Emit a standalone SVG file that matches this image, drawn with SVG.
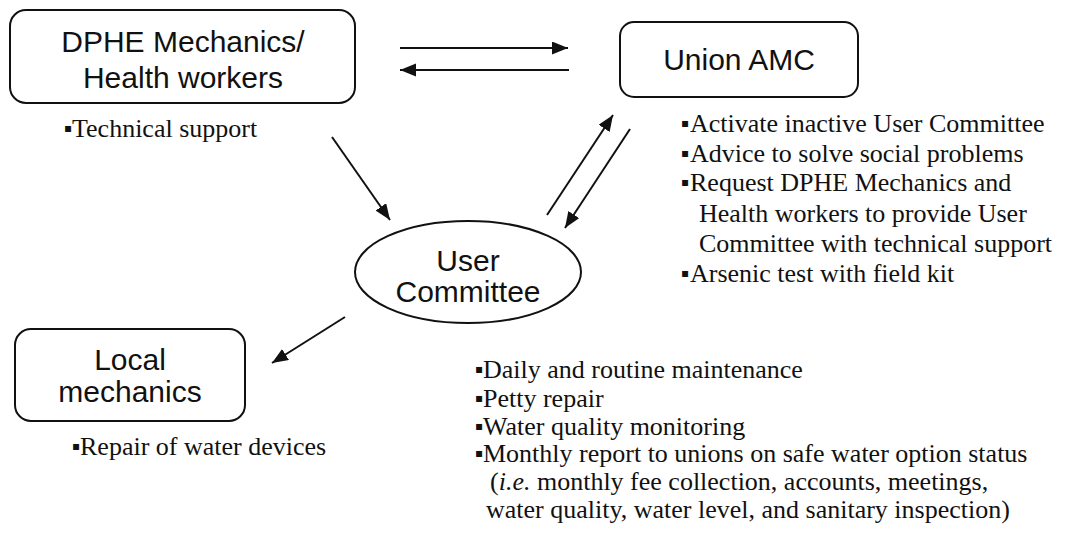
<svg xmlns="http://www.w3.org/2000/svg" width="1066" height="535" viewBox="0 0 1066 535">
  <style>
    .box { fill: #ffffff; stroke: #111111; stroke-width: 2; }
    .label { font-family: "Liberation Sans", Arial, sans-serif; font-size: 30px; fill: #111111; text-anchor: middle; }
    .note { font-family: "Liberation Serif", "Times New Roman", serif; font-size: 26px; fill: #111111; }
    .dot { font-family: "DejaVu Sans", sans-serif; font-size: 12px; }
    .edge { stroke: #111111; stroke-width: 2; fill: none; marker-end: url(#head); }
    .plain { stroke: #111111; stroke-width: 2; fill: none; }
  </style>
  <defs>
    <marker id="head" markerUnits="userSpaceOnUse" markerWidth="17" markerHeight="14" refX="16" refY="6.5" orient="auto">
      <path d="M0,0 L16,6.5 L0,13 z" fill="#111111"/>
    </marker>
  </defs>
  <rect width="1066" height="535" fill="#ffffff"/>

  <!-- connectors -->
  <g id="connectors">
    <line class="edge" x1="400" y1="48" x2="568" y2="48"/>
    <line class="edge" x1="569" y1="70" x2="400" y2="70"/>
    <line class="edge" x1="332" y1="137" x2="390" y2="220"/>
    <line class="edge" x1="547" y1="215" x2="613" y2="115"/>
    <line class="edge" x1="630" y1="129" x2="565" y2="228"/>
    <line class="edge" x1="345" y1="317" x2="272" y2="363"/>
  </g>

  <!-- DPHE mechanics / health workers -->
  <g id="dphe">
    <rect class="box" x="10" y="10" width="345" height="93" rx="16"/>
    <text class="label" x="183" y="52">DPHE Mechanics/</text>
    <text class="label" x="183" y="88">Health workers</text>
    <text class="note"><tspan class="dot" x="64" y="132">▪</tspan><tspan x="72" y="137">Technical support</tspan></text>
  </g>

  <!-- Union AMC -->
  <g id="union-amc">
    <rect class="box" x="620" y="22" width="238" height="75" rx="14"/>
    <text class="label" x="739" y="70">Union AMC</text>
    <text class="note">
      <tspan class="dot" x="681" y="127">▪</tspan><tspan x="690" y="132">Activate inactive User Committee</tspan>
      <tspan class="dot" x="681" y="157">▪</tspan><tspan x="690" y="162">Advice to solve social problems</tspan>
      <tspan class="dot" x="681" y="186">▪</tspan><tspan x="690" y="191">Request DPHE Mechanics and</tspan>
      <tspan x="699" y="222">Health workers to provide User</tspan>
      <tspan x="699" y="252">Committee with technical support</tspan>
      <tspan class="dot" x="681" y="277">▪</tspan><tspan x="690" y="282">Arsenic test with field kit</tspan>
    </text>
  </g>

  <!-- User Committee -->
  <g id="user-committee">
    <ellipse class="plain" cx="468" cy="272" rx="113" ry="51"/>
    <text class="label" x="468" y="271">User</text>
    <text class="label" x="468" y="302">Committee</text>
    <text class="note">
      <tspan class="dot" x="475" y="373">▪</tspan><tspan x="483" y="378">Daily and routine maintenance</tspan>
      <tspan class="dot" x="475" y="402">▪</tspan><tspan x="483" y="407">Petty repair</tspan>
      <tspan class="dot" x="475" y="430">▪</tspan><tspan x="483" y="435">Water quality monitoring</tspan>
      <tspan class="dot" x="475" y="457">▪</tspan><tspan x="483" y="462">Monthly report to unions on safe water option status</tspan>
      <tspan x="490" y="490">(<tspan font-style="italic">i.e.</tspan> monthly fee collection, accounts, meetings,</tspan>
      <tspan x="486" y="518">water quality, water level, and sanitary inspection)</tspan>
    </text>
  </g>

  <!-- Local mechanics -->
  <g id="local-mechanics">
    <rect class="box" x="15" y="329" width="230" height="92" rx="16"/>
    <text class="label" x="130" y="370">Local</text>
    <text class="label" x="130" y="402">mechanics</text>
    <text class="note"><tspan class="dot" x="72" y="450">▪</tspan><tspan x="80" y="455">Repair of water devices</tspan></text>
  </g>
</svg>
